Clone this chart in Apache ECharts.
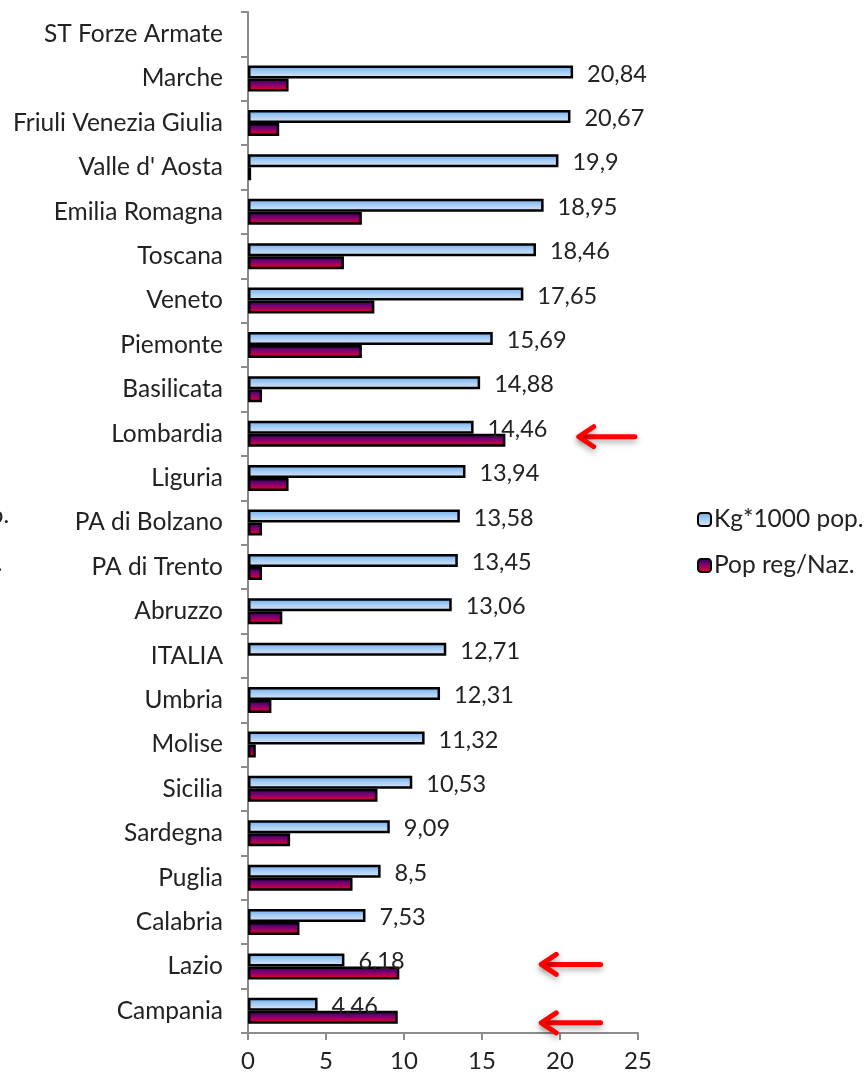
<!DOCTYPE html>
<html>
<head>
<meta charset="utf-8">
<style>
  html, body { margin: 0; padding: 0; background: #fff; }
  #main { width: 868px; height: 1081px; }
</style>
<script src="https://cdn.jsdelivr.net/npm/echarts@6/dist/echarts.min.js"></script>
</head>
<body>
<div id="main"></div>
<script>
// categories listed top to bottom
const regions = [
  'ST Forze Armate', 'Marche', 'Friuli Venezia Giulia', "Valle d' Aosta",
  'Emilia Romagna', 'Toscana', 'Veneto', 'Piemonte', 'Basilicata',
  'Lombardia', 'Liguria', 'PA di Bolzano', 'PA di Trento', 'Abruzzo',
  'ITALIA', 'Umbria', 'Molise', 'Sicilia', 'Sardegna', 'Puglia',
  'Calabria', 'Lazio', 'Campania'
];
const kgPerPop = [
  null, 20.84, 20.67, 19.9, 18.95, 18.46, 17.65, 15.69, 14.88,
  14.46, 13.94, 13.58, 13.45, 13.06, 12.71, 12.31, 11.32, 10.53,
  9.09, 8.5, 7.53, 6.18, 4.46
];
const popShare = [
  null, 2.6, 2.0, 0.2, 7.3, 6.15, 8.1, 7.3, 0.9,
  16.5, 2.6, 0.9, 0.9, 2.2, null, 1.5, 0.5, 8.3,
  2.7, 6.7, 3.3, 9.7, 9.6
];
const xTicks = [0, 5, 10, 15, 20, 25];
// regions marked with a red arrow, and where the arrow sits (x range)
const arrowMarks = [
  { name: 'Lombardia', from: 24.8, to: 21.2, dy: 3 },
  { name: 'Lazio', from: 22.6, to: 18.8, dy: -2 },
  { name: 'Campania', from: 22.6, to: 18.8, dy: 12 }
];

const font = 'Lato, "Open Sans", sans-serif';
const blueFill = new echarts.graphic.LinearGradient(0, 0, 0, 1, [
  { offset: 0, color: '#62a8f2' },
  { offset: 0.45, color: '#a4cbf4' },
  { offset: 1, color: '#e2e8f2' }
]);
const redFill = new echarts.graphic.LinearGradient(0, 0, 0, 1, [
  { offset: 0, color: '#24005c' },
  { offset: 0.45, color: '#800072' },
  { offset: 1, color: '#ff0018' }
]);

const chart = echarts.init(document.getElementById('main'));
chart.setOption({
  animation: false,
  grid: { left: 248, right: 230, top: 12, bottom: 48 },
  legend: {
    orient: 'vertical',
    left: 692,
    top: 502,
    itemWidth: 13,
    itemHeight: 13,
    itemGap: 21,
    data: ['Kg*1000 pop.', 'Pop reg/Naz.'],
    textStyle: { fontFamily: font, fontSize: 24.5, color: '#222', padding: [0, 0, 0, -2] },
    itemStyle: { borderColor: '#000', borderWidth: 2 }
  },
  xAxis: {
    type: 'value',
    min: 0,
    max: 25,
    interval: 5,
    axisLine: { show: true, lineStyle: { color: '#8c8c8c', width: 2 } },
    axisTick: { show: true, length: 7, lineStyle: { color: '#8c8c8c', width: 2 } },
    splitLine: { show: false },
    axisLabel: {
      fontFamily: font, fontSize: 24, color: '#222', margin: 16,
      formatter: v => xTicks.includes(v) ? String(v) : ''
    }
  },
  yAxis: {
    type: 'category',
    inverse: true,
    data: regions,
    axisLine: { show: true, lineStyle: { color: '#8c8c8c', width: 2 } },
    axisTick: { show: true, length: 7, lineStyle: { color: '#8c8c8c', width: 2 } },
    axisLabel: { fontFamily: font, fontSize: 24.5, color: '#222', margin: 25 }
  },
  series: [
    {
      name: 'Kg*1000 pop.',
      type: 'bar',
      data: kgPerPop,
      barWidth: 13,
      barGap: '0%',
      itemStyle: { color: blueFill, borderColor: '#000', borderWidth: 2.5 },
      label: {
        show: true,
        position: 'right',
        distance: 14,
        offset: [0, 2],
        fontFamily: font,
        fontSize: 23.5,
        color: '#222',
        formatter: p => String(p.value).replace('.', ',')
      },
      z: 3
    },
    {
      name: 'Pop reg/Naz.',
      type: 'bar',
      data: popShare,
      barWidth: 13,
      barGap: '0%',
      itemStyle: { color: redFill, borderColor: '#000', borderWidth: 2.5 },
      z: 2
    }
  ]
});

// red arrows drawn after layout, positioned through the axes
function arrow(a) {
  const p0 = chart.convertToPixel({ gridIndex: 0 }, [a.from, a.name]);
  const p1 = chart.convertToPixel({ gridIndex: 0 }, [a.to, a.name]);
  const y = p0[1] + a.dy;
  const style = {
    stroke: '#ff0000', lineWidth: 5, lineCap: 'round', lineJoin: 'round', fill: null,
    shadowBlur: 6, shadowColor: 'rgba(0,0,0,0.35)', shadowOffsetY: 3
  };
  return [
    { type: 'line', shape: { x1: p0[0], y1: y, x2: p1[0] + 2, y2: y }, style: style, z: 10 },
    {
      type: 'polyline',
      shape: { points: [[p1[0] + 15, y - 10], [p1[0], y], [p1[0] + 15, y + 10]] },
      style: style,
      z: 10
    }
  ];
}
const extras = [];
arrowMarks.forEach(a => extras.push(...arrow(a)));
// fragments of a neighbouring legend cut by the left edge
extras.push(
  { type: 'text', left: -37, top: 503, style: { text: 'pop.', font: '24px ' + font, fill: '#222' } },
  { type: 'text', left: -44, top: 551, style: { text: 'Naz.', font: '24px ' + font, fill: '#222' } }
);
chart.setOption({ graphic: extras });
</script>
</body>
</html>
